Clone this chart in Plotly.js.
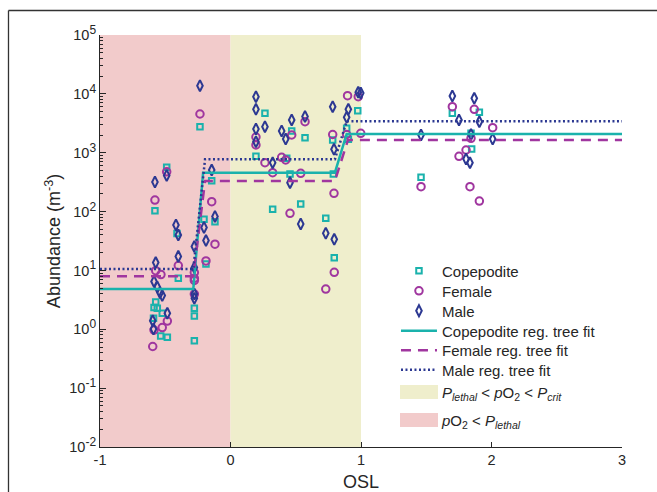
<!DOCTYPE html>
<html>
<head>
<meta charset="utf-8">
<script src="https://cdn.plot.ly/plotly-3.0.1.min.js"></script>
<style>html,body{margin:0;padding:0;background:#fff;}#chart{width:657px;height:492px;}</style>
</head>
<body>
<div id="chart"></div>
<script>
// ---- data ----
var lethalRange = [-1, 0];
var critRange = [0, 1];
var yLimits = [1e-2, 1e5];

var copX = [-0.579, -0.489, -0.41, -0.400, -0.573, -0.586, -0.561, -0.523, -0.59, -0.535, -0.484, -0.277, -0.277, -0.277, -0.234, -0.203, -0.119, -0.188, -0.144,
  0.195, 0.264, 0.469, 0.571, 0.431, 0.456, 0.323, 0.538, 0.783, 0.788, 0.730, 0.795, 0.890, 0.903, 0.975,
  1.460, 1.700, 1.907, 1.843, 1.848];
var copY = [103, 565, 42.4, 7.35, 2.91, 2.34, 2.27, 1.87, 1.54, 0.77, 0.73, 2.27, 1.68, 0.64, 2767, 74, 67.3, 12.9, 335,
  869, 4680, 2340, 1800, 804, 435, 109, 135, 1645, 435, 76.9, 16.4, 2600, 1690, 5170,
  382, 4680, 4860, 2138, 1157];

var femX = [-0.579, -0.489, -0.573, -0.533, -0.400, -0.484, -0.523, -0.586, -0.596, -0.277, -0.277, -0.277, -0.277, -0.234, -0.144, -0.119, -0.188,
  0.195, 0.195, 0.264, 0.323, 0.469, 0.571, 0.392, 0.423, 0.538, 0.456, 0.783, 0.793, 0.795, 0.730, 0.897, 0.890, 0.979, 0.998,
  1.460, 1.700, 1.868, 1.843, 2.009, 1.805, 1.751, 1.835, 1.907];
var femY = [157, 475, 9.9, 8.5, 12.1, 1.38, 1.07, 0.97, 0.51, 9.2, 7.35, 6.74, 3.97, 4550, 147, 27.9, 14.5,
  1850, 1352, 676, 457, 2000, 3365, 836, 752, 447, 93.5, 2040, 204, 9.3, 4.83, 9310, 2040, 8950, 2138,
  265, 6050, 5470, 1757, 2660, 1112, 869, 265, 151];

var maleX = [-0.579, -0.489, -0.418, -0.400, -0.573, -0.400, -0.586, -0.561, -0.540, -0.523, -0.484, -0.596, -0.590, -0.277, -0.277, -0.277, -0.277, -0.234, -0.203, -0.188, -0.144, -0.119,
  0.195, 0.195, 0.195, 0.195, 0.264, 0.323, 0.392, 0.423, 0.469, 0.571, 0.456, 0.538, 0.783, 0.793, 0.730, 0.795, 0.903, 0.890, 0.979, 0.998,
  1.460, 1.700, 1.751, 1.868, 1.907, 1.843, 2.009, 1.805, 1.835];
var maleY = [318, 410, 59.2, 40, 13.6, 17.3, 6.48, 5.23, 4.19, 3.75, 1.87, 1.4, 1.01, 25.5, 11.2, 3.97, 3.36, 13770, 53.6, 32.2, 508, 82.5,
  8950, 5470, 2530, 1540, 2767, 676, 2340, 1710, 3600, 4120, 310, 61.5, 6050, 1143, 42.8, 33.8, 5470, 4000, 10620, 10300,
  2000, 9200, 3600, 8400, 3365, 2040, 1710, 782, 676];

var copFitX = [-1, -0.285, -0.21, 0.80, 0.89, 3];
var copFitY = [4.83, 4.83, 457, 457, 2080, 2080];
var femFitX = [-1, -0.285, -0.195, 0.80, 0.90, 3];
var femFitY = [8.0, 8.0, 331, 331, 1645, 1645];
var maleFitX = [-1, -0.285, -0.195, 0.80, 0.89, 3];
var maleFitY = [10.6, 10.6, 773, 773, 3415, 3415];

var xTicks = [-1, 0, 1, 2, 3];
var yExps = [-2, -1, 0, 1, 2, 3, 4, 5];

// ---- styles ----
var cTeal = '#1ab2ac', cPurple = '#a0369f', cNavy = '#2c3892';
var cRed = '#f2cbcb', cYellow = '#efeecc';
var txt = '#262626';
var FONT = 'Liberation Sans, Arial, Helvetica, sans-serif';

function box(r) { return [r[0], r[1], r[1], r[0]]; }
var yBox = [yLimits[0], yLimits[0], yLimits[1], yLimits[1]];

var yTickVals = yExps.map(function (e) { return Math.pow(10, e); });
var yTickText = yExps.map(function (e) { return '10<sup><span style="font-size:12px">' + e + '</span></sup>'; });
var minorVals = [];
for (var e = yExps[0]; e < yExps[yExps.length - 1]; e++) {
  for (var m = 2; m <= 9; m++) minorVals.push(m * Math.pow(10, e));
}

var noLine = {color: 'rgba(0,0,0,0)', width: 1};
var traces = [
  {x: box(lethalRange), y: yBox, fill: 'toself', fillcolor: cRed, mode: 'lines', line: {width: 0}, showlegend: false, hoverinfo: 'skip'},
  {x: box(critRange), y: yBox, fill: 'toself', fillcolor: cYellow, mode: 'lines', line: {width: 0}, showlegend: false, hoverinfo: 'skip'},
  {x: copX, y: copY, name: 'Copepodite', legend: 'legend', mode: 'markers', marker: {symbol: 'square-open', size: 5.5, color: cTeal, line: {width: 2, color: cTeal}}},
  {x: femX, y: femY, name: 'Female', legend: 'legend2', mode: 'markers', marker: {symbol: 'circle-open', size: 7.5, color: cPurple, line: {width: 2, color: cPurple}}},
  {x: maleX, y: maleY, name: 'Male', legend: 'legend3', mode: 'markers', marker: {symbol: 'diamond-tall-open', size: 8, color: cNavy, line: {width: 2, color: cNavy}}},
  {x: copFitX, y: copFitY, name: 'Copepodite reg. tree fit', legend: 'legend4', mode: 'lines', line: {color: cTeal, width: 2.5}},
  {x: femFitX, y: femFitY, name: 'Female reg. tree fit', legend: 'legend5', mode: 'lines', line: {color: cPurple, width: 2.5, dash: '10px,7px'}},
  {x: maleFitX, y: maleFitY, name: 'Male reg. tree fit', legend: 'legend6', mode: 'lines', line: {color: cNavy, width: 2.5, dash: '2px,2.5px'}},
  {x: [null], y: [null], name: '<i>P</i><sub><i>lethal</i></sub> &lt; <i>p</i>O<sub>2</sub> &lt; <i>P</i><sub><i>crit</i></sub>', legend: 'legend7', mode: 'lines', line: noLine},
  {x: [null], y: [null], name: '<i>p</i>O<sub>2</sub> &lt; <i>P</i><sub><i>lethal</i></sub>', legend: 'legend8', mode: 'lines', line: noLine}
];

// legend item centres (paper y) – one legend per entry for exact spacing
var legendYs = [0.4272, 0.3786, 0.3301, 0.2816, 0.2342, 0.1869, 0.1335, 0.0655];
function legendAt(y) {
  return {x: 0.567, y: y, xanchor: 'left', yanchor: 'middle', bgcolor: 'rgba(0,0,0,0)', borderwidth: 0,
    font: {family: FONT, size: 15, color: txt}, itemwidth: 36};
}

var layout = {
  width: 657, height: 492,
  margin: {l: 100, r: 35, t: 35, b: 45, pad: 0},
  paper_bgcolor: '#fff', plot_bgcolor: '#fff',
  font: {family: FONT, size: 14, color: txt},
  showlegend: true,
  xaxis: {
    range: [-1, 3], tickmode: 'array', tickvals: xTicks, ticktext: xTicks.map(String),
    ticks: 'inside', ticklen: 5, tickcolor: txt, tickwidth: 1,
    showline: true, linecolor: txt, linewidth: 1, showgrid: false, zeroline: false,
    tickfont: {family: FONT, size: 14.5, color: txt},
    title: {text: 'OSL', font: {family: FONT, size: 18, color: txt}, standoff: 9}
  },
  yaxis: {
    type: 'log', range: [-2, 5], tickmode: 'array', tickvals: yTickVals, ticktext: yTickText,
    ticks: 'inside', ticklen: 6, tickcolor: txt, tickwidth: 1,
    minor: {tickmode: 'array', tickvals: minorVals, ticks: 'inside', ticklen: 3, tickcolor: txt, tickwidth: 1, showgrid: false},
    showline: true, linecolor: txt, linewidth: 1, showgrid: false, zeroline: false,
    tickfont: {family: FONT, size: 14.5, color: txt},
    title: {text: 'Abundance (m<sup>-3</sup>)', font: {family: FONT, size: 18, color: txt}, standoff: 3}
  },
  shapes: [
    {type: 'line', xref: 'paper', yref: 'paper', x0: -0.1753, x1: 1.08, y0: 1.0595, y1: 1.0595, line: {color: '#333', width: 1.3}},
    {type: 'line', xref: 'paper', yref: 'paper', x0: -0.1753, x1: -0.1753, y0: 1.0595, y1: -0.15, line: {color: '#333', width: 1.3}},
    {type: 'rect', xref: 'paper', yref: 'paper', x0: 0.5747, x1: 0.6475, y0: 0.1165, y1: 0.1505, fillcolor: cYellow, line: {width: 0}},
    {type: 'rect', xref: 'paper', yref: 'paper', x0: 0.5747, x1: 0.6475, y0: 0.0485, y1: 0.0825, fillcolor: cRed, line: {width: 0}}
  ]
};
var legendNames = ['legend', 'legend2', 'legend3', 'legend4', 'legend5', 'legend6', 'legend7', 'legend8'];
legendNames.forEach(function (n, i) { layout[n] = legendAt(legendYs[i]); });

Plotly.newPlot('chart', traces, layout, {displayModeBar: false, staticPlot: true});
</script>
</body>
</html>
